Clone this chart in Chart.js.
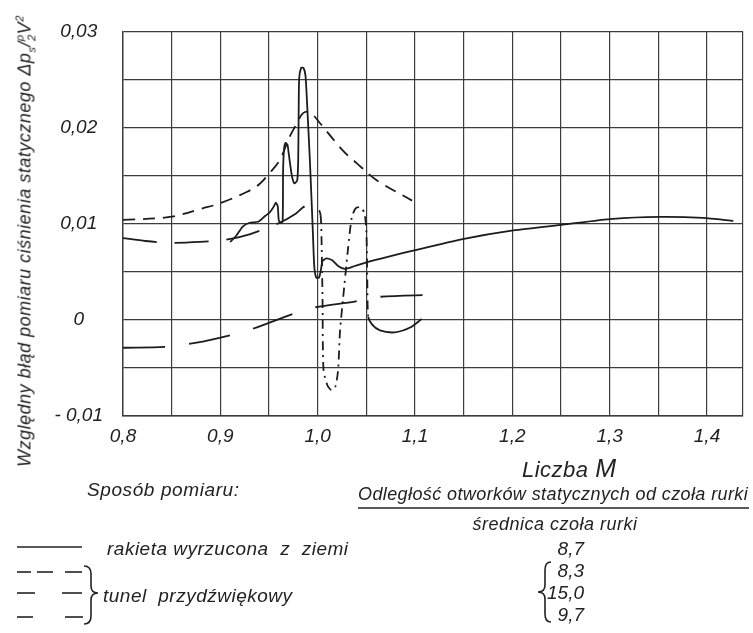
<!DOCTYPE html>
<html>
<head>
<meta charset="utf-8">
<script src="https://cdn.jsdelivr.net/npm/chart.js@4.4.1/dist/chart.umd.min.js"></script>
<style>
  body { margin: 0; background: #fff; }
  #wrap { position: relative; width: 753px; height: 633px; overflow: hidden; }
  #chart { position: absolute; left: 0; top: 0; }
  .t { position: absolute; font-family: "Liberation Sans", Arial, sans-serif; font-style: italic;
       color: #222; white-space: nowrap; line-height: 1; }
  .num { transform: translateX(-100%); font-size: 19px; }
  #overlay { position: absolute; left: 0; top: 0; }
</style>
</head>
<body>
<div id="wrap">
  <canvas id="chart" width="753" height="633"></canvas>

  <!-- tytuł osi Y -->
  <div class="t" id="ytitle" style="left:26px; top:241px; font-size:18px; letter-spacing:0.5px;
       transform: translate(-50%,-50%) rotate(-90deg);">
    Względny błąd pomiaru ciśnienia statycznego Δp<sub style="font-size:11px">s</sub>/<span
      style="display:inline-block; vertical-align:middle; text-align:center; font-size:11px; line-height:1.05;">ρ<br>2</span>V<sup style="font-size:11px">2</sup>
  </div>

  <div class="t" style="left:522px; top:456px; font-size:22px; letter-spacing:0.5px;">Liczba <span style="font-size:25px">M</span></div>

  <div class="t" style="left:87px; top:480px; font-size:19px; letter-spacing:0.6px;">Sposób pomiaru:</div>
  <div class="t" style="left:358px; top:485px; font-size:18px; letter-spacing:0.4px;">Odległość otworków statycznych od czoła rurki</div>
  <div class="t" style="left:555px; top:515px; font-size:18px; letter-spacing:0.5px; transform:translateX(-50%);">średnica czoła rurki</div>

  <div class="t" style="left:107px; top:539px; font-size:19px; letter-spacing:0.5px;">rakieta wyrzucona&nbsp; z&nbsp; ziemi</div>
  <div class="t" style="left:103px; top:586px; font-size:19px; letter-spacing:0.5px;">tunel&nbsp; przydźwiękowy</div>

  <div class="t num" style="left:584px; top:539px;">8,7</div>
  <div class="t num" style="left:584px; top:561px;">8,3</div>
  <div class="t num" style="left:584px; top:583px;">15,0</div>
  <div class="t num" style="left:584px; top:605px;">9,7</div>

  <svg id="overlay" width="753" height="633" stroke="#222" fill="none" stroke-width="1.6">
    <line x1="358" y1="508" x2="749" y2="508" />
    <line x1="17" y1="547" x2="82" y2="547" />
    <line x1="17" y1="572" x2="31" y2="572" />
    <line x1="37" y1="572" x2="53" y2="572" />
    <line x1="65" y1="572" x2="82" y2="572" />
    <line x1="17" y1="593" x2="35" y2="593" />
    <line x1="62" y1="593" x2="82" y2="593" />
    <line x1="17" y1="617" x2="33" y2="617" />
    <line x1="65" y1="617" x2="83" y2="617" />
    <path d="M84,566 Q91,566 91,574 L91,586 Q91,593 98,593 Q91,593 91,600 L91,616 Q91,624 84,624" />
    <path d="M551,562 Q545,562 545,570 L545,585 Q545,592 538,592 Q545,592 545,599 L545,614 Q545,622 551,622" />
  </svg>
</div>

<script>
// Osie
const xMin = 0.8;
const xMax = 1.437;
const yMin = -0.01;
const yMax = 0.03;
const xTickValues = [0.8, 0.9, 1.0, 1.1, 1.2, 1.3, 1.4];
const xTickLabels = ['0,8', '0,9', '1,0', '1,1', '1,2', '1,3', '1,4'];
const yTickValues = [-0.01, 0, 0.01, 0.02, 0.03];
const yTickLabels = ['- 0,01', '0', '0,01', '0,02', '0,03'];

// rakieta wyrzucona z ziemi (linia ciągła)
const rocketM = [0.910, 0.916, 0.923, 0.930, 0.939, 0.946, 0.951, 0.955, 0.957, 0.959, 0.960, 0.962, 0.964,
  0.9645, 0.9655, 0.967, 0.969, 0.9705, 0.9735, 0.976, 0.979, 0.980, 0.9805, 0.981, 0.983, 0.9855, 0.9875,
  0.989, 0.992, 0.995, 0.9965, 0.9985, 1.0015, 1.0035, 1.005, 1.009, 1.015, 1.021, 1.028, 1.038, 1.051,
  1.074, 1.098, 1.149, 1.201, 1.252, 1.303, 1.352, 1.396, 1.427];
const rocketErr = [0.0081, 0.0087, 0.0097, 0.0101, 0.0102, 0.0108, 0.0112, 0.0118, 0.0122, 0.0118, 0.0104, 0.0101, 0.0102,
  0.0156, 0.0178, 0.0184, 0.0182, 0.0171, 0.0150, 0.0142, 0.0145, 0.0166, 0.0218, 0.0251, 0.0262, 0.0262, 0.0254,
  0.0228, 0.0166, 0.0093, 0.0056, 0.0044, 0.0044, 0.0053, 0.0061, 0.0064, 0.0062, 0.0056, 0.0053, 0.0056, 0.0060,
  0.0066, 0.0072, 0.0084, 0.0093, 0.0099, 0.0105, 0.0107, 0.0106, 0.0103];

// tunel przydźwiękowy 8,3
const tunnelAM = [0.800, 0.848, 0.882, 0.899, 0.927, 0.940, 0.950, 0.961, 0.971, 0.979, 0.985, 0.992, 1.002, 1.026, 1.040, 1.061, 1.097];
const tunnelAErr = [0.0104, 0.0107, 0.0116, 0.0121, 0.0133, 0.0141, 0.0152, 0.0166, 0.0190, 0.0205, 0.0215, 0.0216, 0.0205, 0.0176, 0.0163, 0.0145, 0.0124];

// tunel przydźwiękowy 15,0
const tunnelBM = [0.800, 0.823, 0.848, 0.879, 0.903, 0.930, 0.961, 0.977, 0.985, 0.993, 1.000, 1.003,
  1.004, 1.005, 1.006, 1.010, 1.014, 1.018, 1.021, 1.023, 1.026, 1.031, 1.035, 1.039, 1.044, 1.048, 1.050, 1.051, 1.052,
  1.056, 1.064, 1.079, 1.095, 1.107];
const tunnelBErr = [0.0085, 0.0082, 0.0080, 0.0081, 0.0083, 0.0089, 0.0101, 0.0110, 0.0117, 0.0121, 0.0117, 0.0109,
  0.0083, 0.0021, -0.0052, -0.0068, -0.0073, -0.0070, -0.0052, -0.0011, 0.0021, 0.0072, 0.0106, 0.0116, 0.0117, 0.0111, 0.0093, 0.0041, 0.0003,
  -0.0005, -0.0011, -0.0013, -0.0008, 0.0001];

// tunel przydźwiękowy 9,7
const tunnelCM = [0.800, 0.845, 0.874, 0.910, 0.934, 0.974, 0.997, 1.038, 1.064, 1.117];
const tunnelCErr = [-0.0029, -0.0028, -0.0024, -0.0016, -0.0009, 0.0006, 0.0013, 0.0019, 0.0024, 0.0026];

const toPoints = (xs, ys) => xs.map((x, i) => ({ x: x, y: ys[i] }));
const ink = '#1c1c1c';
const gridInk = '#3c3c3c';
const tickFont = { family: '"Liberation Sans", Arial, sans-serif', size: 19, style: 'italic' };

function labelFor(values, labels, v) {
  const i = values.findIndex(t => Math.abs(t - v) < 1e-9);
  return i >= 0 ? labels[i] : '';
}

const lineBase = { showLine: true, pointRadius: 0, borderColor: ink, borderWidth: 1.8, fill: false };

new Chart(document.getElementById('chart'), {
  type: 'scatter',
  data: {
    datasets: [
      Object.assign({ label: 'rakieta wyrzucona z ziemi', data: toPoints(rocketM, rocketErr), tension: 0.2 }, lineBase),
      Object.assign({ label: '8,3', data: toPoints(tunnelAM, tunnelAErr), tension: 0.35, borderDash: [12, 8] }, lineBase),
      Object.assign({
        label: '15,0', data: toPoints(tunnelBM, tunnelBErr), tension: 0.25,
        segment: {
          borderDash: ctx => {
            const x = ctx.p0.parsed.x;
            if (x < 1.003) return [34, 18];
            if (x < 1.052) return [9, 5, 2, 5];
            return [];
          }
        }
      }, lineBase),
      Object.assign({ label: '9,7', data: toPoints(tunnelCM, tunnelCErr), tension: 0.3, borderDash: [42, 24] }, lineBase)
    ]
  },
  options: {
    responsive: false,
    animation: false,
    devicePixelRatio: 1,
    layout: { padding: { top: 31, right: 10, left: 0, bottom: 0 } },
    plugins: { legend: { display: false }, tooltip: { enabled: false } },
    scales: {
      x: {
        type: 'linear', min: xMin, max: xMax,
        afterBuildTicks: axis => {
          const ticks = [];
          for (let i = 0; i <= 12; i++) ticks.push({ value: +(xMin + 0.05 * i).toFixed(2) });
          ticks.push({ value: xMax });
          axis.ticks = ticks;
        },
        afterFit: scale => { scale.height = 217; },
        grid: { color: gridInk, lineWidth: 1.2, drawTicks: false },
        border: { color: gridInk, width: 1.4 },
        ticks: {
          autoSkip: false, maxRotation: 0, padding: 9, color: '#222', font: tickFont,
          callback: v => labelFor(xTickValues, xTickLabels, v)
        }
      },
      y: {
        type: 'linear', min: yMin, max: yMax,
        afterFit: scale => { scale.width = 123; },
        grid: { color: gridInk, lineWidth: 1.2, drawTicks: false },
        border: { color: gridInk, width: 1.4 },
        ticks: {
          stepSize: 0.005, autoSkip: false, padding: 20, crossAlign: 'center', color: '#222', font: tickFont,
          callback: v => labelFor(yTickValues, yTickLabels, v)
        }
      }
    }
  }
});
</script>
</body>
</html>
